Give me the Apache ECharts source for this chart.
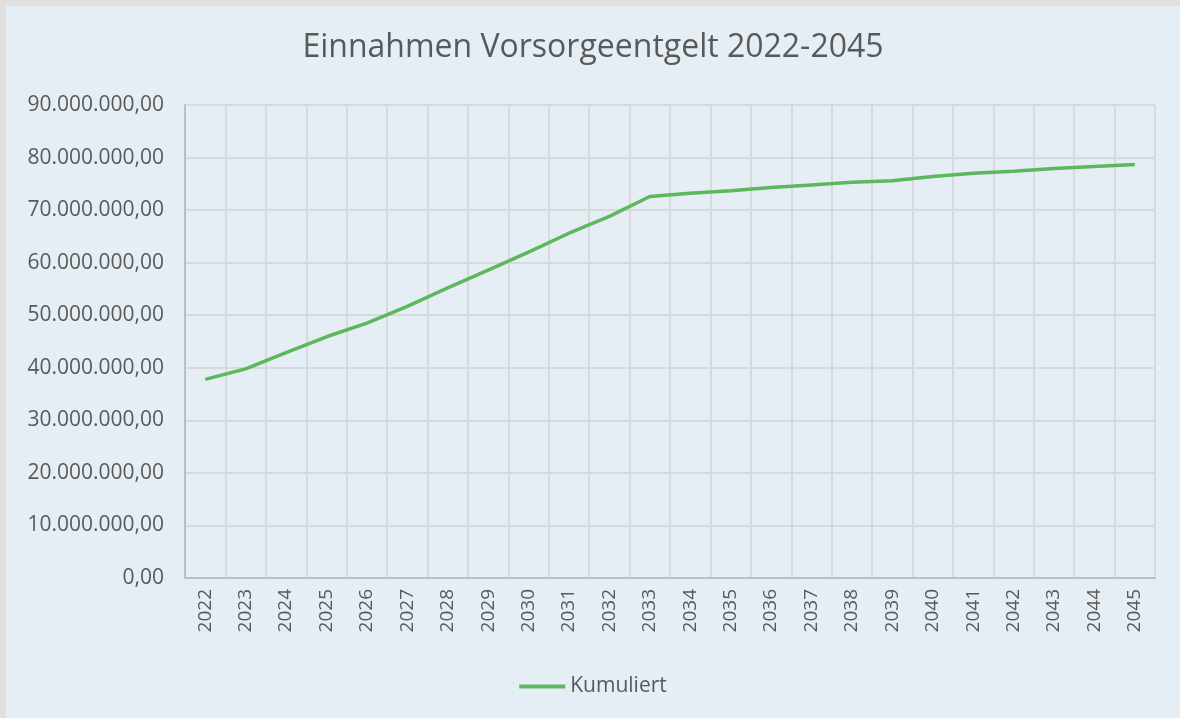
<!DOCTYPE html>
<html><head><meta charset="utf-8">
<script src="https://cdn.jsdelivr.net/npm/echarts@6/dist/echarts.min.js"></script>
<style>
html,body{margin:0;padding:0;background:#fff;}
#wrap{position:absolute;left:0;top:0;width:1180px;height:718px;background:#e0e0e0;}
#c{position:absolute;left:6px;top:6px;width:1174px;height:712px;background:#e5eef4;}
</style></head>
<body><div id="wrap"><div id="c"></div></div>
<script>
var years = ['2022','2023','2024','2025','2026','2027','2028','2029','2030','2031','2032','2033','2034','2035','2036','2037','2038','2039','2040','2041','2042','2043','2044','2045'];
var kumuliert = [37.8,39.8,42.9,45.9,48.5,51.7,55.2,58.6,62.0,65.6,68.8,72.6,73.2,73.7,74.3,74.8,75.3,75.6,76.4,77.0,77.4,77.9,78.3,78.7];
var yTicks = [0,10,20,30,40,50,60,70,80,90];

var chart = echarts.init(document.getElementById('c'), null, {renderer:'canvas'});
function fmt(v){
  var s = String(Math.round(v*1000000));
  var out = s.replace(/\B(?=(\d{3})+(?!\d))/g, '.');
  return out + ',00';
}
chart.setOption({
  backgroundColor:'#e5eef4',
  animation:false,
  title:{text:'Einnahmen Vorsorgeentgelt 2022-2045', left:'center', top:21,
    textStyle:{fontFamily:'Open Sans', fontSize:32, fontWeight:'normal', color:'#595959'}},
  grid:{left:179, right:25, top:99, bottom:140},
  legend:{bottom:16, left:'center', itemWidth:46, itemHeight:4, icon:'rect', itemGap:6,
    textStyle:{fontFamily:'Open Sans', fontSize:21, color:'#595959'},
    data:['Kumuliert']},
  xAxis:{type:'category', data:years, boundaryGap:true,
    axisLine:{show:true, lineStyle:{color:'#bfbfbf', width:2}},
    axisTick:{show:false},
    splitLine:{show:true, interval:0, lineStyle:{color:'#d9d9d9', width:2}},
    axisLabel:{rotate:90, interval:0, margin:11, fontFamily:'Open Sans', fontSize:19, color:'#595959'}},
  yAxis:{type:'value', min:yTicks[0], max:yTicks[yTicks.length-1], interval:10,
    axisLine:{show:true, lineStyle:{color:'#bfbfbf', width:2}},
    axisTick:{show:false},
    splitLine:{show:true, lineStyle:{color:'#d9d9d9', width:2}},
    axisLabel:{margin:21, fontFamily:'Open Sans', fontSize:21, color:'#595959', formatter:fmt}},
  series:[{name:'Kumuliert', type:'line', data:kumuliert, symbol:'none',
    lineStyle:{color:'#5cb85c', width:3.5}, itemStyle:{color:'#5cb85c'}}]
});
</script></body></html>
